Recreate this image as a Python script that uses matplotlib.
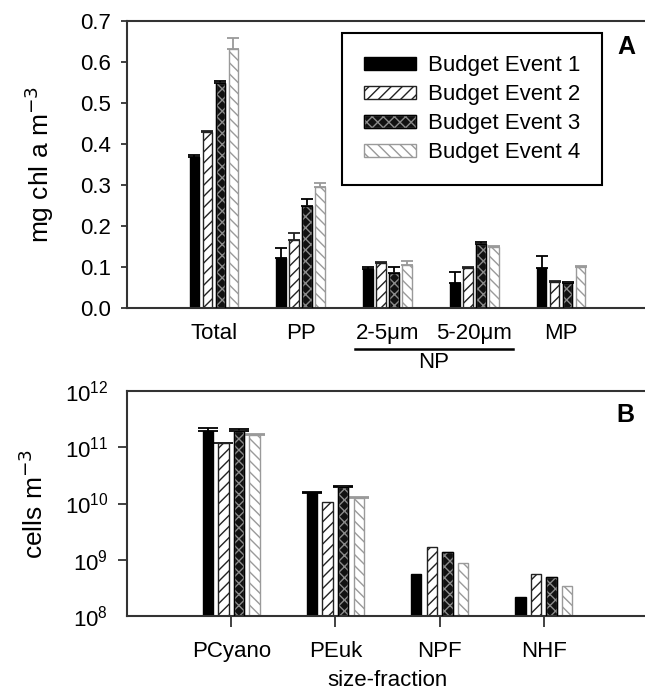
import numpy as np
import matplotlib
matplotlib.use('Agg')
import matplotlib.pyplot as plt
import matplotlib.transforms as mtransforms
from matplotlib.legend_handler import HandlerTuple

plt.rcParams['font.family'] = ['Liberation Sans', 'DejaVu Sans']
plt.rcParams['hatch.linewidth'] = 1.0

# panel A: chlorophyll by size class
chl_cats = ['Total', 'PP', '2-5μm', '5-20μm', 'MP']
chl_ev1 = [0.367, 0.121, 0.094, 0.060, 0.097]
chl_ev2 = [0.428, 0.165, 0.109, 0.097, 0.064]
chl_ev3 = [0.547, 0.248, 0.085, 0.155, 0.061]
chl_ev4 = [0.632, 0.294, 0.105, 0.148, 0.099]
chl_err1 = [0.005, 0.025, 0.006, 0.027, 0.030]
chl_err2 = [0.003, 0.018, 0.003, 0.002, 0.002]
chl_err3 = [0.005, 0.018, 0.015, 0.005, 0.002]
chl_err4 = [0.027, 0.010, 0.010, 0.002, 0.003]

# panel B: cell abundance
cell_cats = ['PCyano', 'PEuk', 'NPF', 'NHF']
cell_ev1 = [1.97e11, 1.56e10, 5.6e8, 2.15e8]
cell_ev2 = [1.17e11, 1.06e10, 1.66e9, 5.6e8]
cell_ev3 = [1.97e11, 2.0e10, 1.36e9, 4.9e8]
cell_ev4 = [1.65e11, 1.27e10, 8.6e8, 3.4e8]
cell_err1 = [0.2e11, 0.05e10, 0, 0]
cell_err2 = [0.01e11, 0, 0, 0]
cell_err3 = [0.12e11, 0.05e10, 0, 0]
cell_err4 = [0.07e11, 0.02e10, 0, 0]

labels = ['Budget Event 1', 'Budget Event 2', 'Budget Event 3', 'Budget Event 4']

offsets = [-0.225, -0.075, 0.075, 0.225]
spine_c = '#333333'


def draw_bars(ax, x, series, errs, width, capsize):
    handles = []
    styles = [
        dict(color='black', edgecolor='black', hatch=None, ecol='black'),
        dict(color='white', edgecolor='#222222', hatch='///', ecol='#222222'),
        dict(color='#111111', edgecolor='#8a8a8a', hatch='xxx', ecol='black'),
        dict(color='white', edgecolor='#9a9a9a', hatch='\\\\\\', ecol='#9a9a9a'),
    ]
    for i, (vals, err) in enumerate(zip(series, errs)):
        s = styles[i]
        pos = x + offsets[i]
        vals = np.asarray(vals)
        err = np.asarray(err)
        m = err > 0
        if m.any():
            yerr = [np.zeros(m.sum()), err[m]]
            ax.errorbar(pos[m], vals[m], yerr=yerr, fmt='none', ecolor=s['ecol'],
                        elinewidth=1.3, capsize=capsize, capthick=1.3, zorder=1)
        b = ax.bar(pos, vals, width, color=s['color'], edgecolor=s['edgecolor'],
                   hatch=s['hatch'], linewidth=1.0, zorder=2)
        if i == 2:
            o = ax.bar(pos, vals, width, fill=False, edgecolor='black',
                       linewidth=1.0, zorder=3)
            handles.append((b, o))
        else:
            handles.append(b)
    return handles


def style_axes(ax):
    for side in ['top', 'left', 'bottom']:
        ax.spines[side].set_color(spine_c)
        ax.spines[side].set_linewidth(1.5)
    ax.spines['right'].set_visible(False)


fig = plt.figure(figsize=(6.45, 6.92), dpi=100)

# ---- panel A
axA = fig.add_axes([127 / 645, 1 - 308 / 692, 521 / 645, 287.3 / 692])
xa = np.arange(len(chl_cats))
hA = draw_bars(axA, xa, [chl_ev1, chl_ev2, chl_ev3, chl_ev4],
               [chl_err1, chl_err2, chl_err3, chl_err4], 0.11, 4.3)
axA.set_xlim(-1, 5)
axA.set_ylim(0, 0.7)
axA.set_yticks(np.arange(0, 0.71, 0.1))
axA.set_yticklabels(['%.1f' % v for v in np.arange(0, 0.71, 0.1)])
axA.set_xticks(xa)
axA.set_xticklabels(chl_cats)
axA.tick_params(axis='x', length=0, pad=11, labelsize=16)
axA.tick_params(axis='y', length=4.5, width=1.3, color=spine_c, pad=7, labelsize=16)
axA.set_ylabel('mg chl a m$^{-3}$', fontsize=19, labelpad=17)
style_axes(axA)

leg = axA.legend(hA, labels, loc='upper left', bbox_to_anchor=(0.413, 0.957),
                 borderaxespad=0, fontsize=16, handlelength=2.3, handleheight=0.55,
                 handletextpad=0.55, labelspacing=0.36, borderpad=1.0,
                 fancybox=False, framealpha=1, edgecolor='black',
                 handler_map={tuple: HandlerTuple(ndivide=1, pad=0)})
leg.get_frame().set_linewidth(1.5)
axA.text(0.958, 0.908, 'A', transform=axA.transAxes, fontsize=18,
         fontweight='bold', ha='center', va='center')

# NP grouping under the nano size classes
trA = mtransforms.blended_transform_factory(axA.transData, axA.transAxes)
axA.plot([1.62, 3.44], [-0.143, -0.143], color='black', lw=1.8,
         transform=trA, clip_on=False)
axA.text(2.53, -0.19, 'NP', transform=trA, fontsize=16, ha='center', va='center')

# ---- panel B
axB = fig.add_axes([127 / 645, 1 - 616 / 692, 521 / 645, 225 / 692])
xb = np.arange(len(cell_cats))
hB = draw_bars(axB, xb, [cell_ev1, cell_ev2, cell_ev3, cell_ev4],
               [cell_err1, cell_err2, cell_err3, cell_err4], 0.1, 7.5)
axB.set_yscale('log')
axB.set_xlim(-1, 4)
axB.set_ylim(1e8, 1e12)
axB.set_yticks([1e8, 1e9, 1e10, 1e11, 1e12])
axB.yaxis.set_minor_locator(matplotlib.ticker.NullLocator())
axB.set_xticks(xb)
axB.set_xticklabels(cell_cats)
axB.tick_params(axis='x', length=8, width=1.3, color=spine_c, pad=10, labelsize=16)
axB.tick_params(axis='y', length=6.5, width=1.3, color=spine_c, pad=7, labelsize=16)
for t in [axB.yaxis.get_major_ticks()[0], axB.yaxis.get_major_ticks()[-1]]:
    t.tick1line.set_visible(False)
axB.set_ylabel('cells m$^{-3}$', fontsize=19, labelpad=12)
axB.set_xlabel('size-fraction', fontsize=16, labelpad=6)
axB.text(0.956, 0.893, 'B', transform=axB.transAxes, fontsize=18,
         fontweight='bold', ha='center', va='center')
style_axes(axB)

fig.savefig('out.png', dpi=100)
